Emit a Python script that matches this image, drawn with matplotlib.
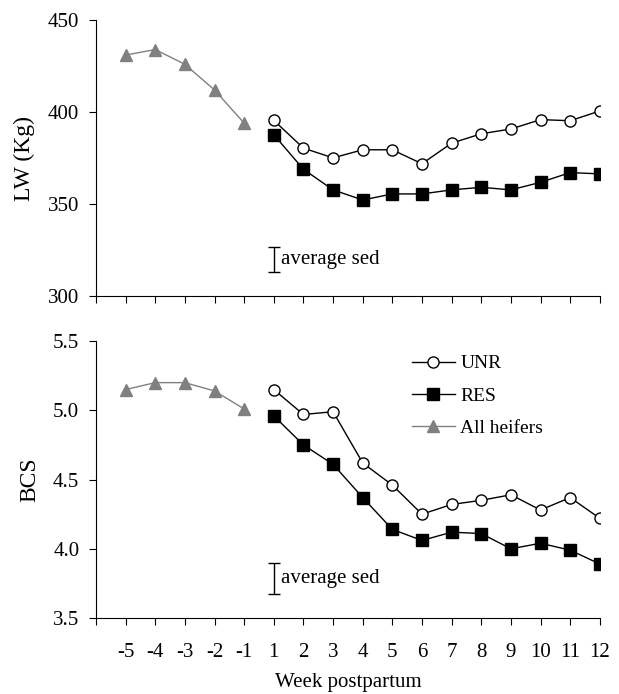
import matplotlib
matplotlib.use("Agg")
import matplotlib.pyplot as plt
import numpy as np

plt.rcParams['font.family'] = ['Liberation Serif', 'DejaVu Serif']

weeks = ['-5', '-4', '-3', '-2', '-1', '1', '2', '3', '4', '5', '6', '7', '8', '9', '10', '11', '12']
pre_idx = list(range(0, 5))
post_idx = list(range(5, 17))

lw_all = [431, 434, 426, 412, 394]
lw_unr = [395.5, 380.4, 375.1, 379.5, 379.5, 371.9, 383.1, 388.2, 390.8, 395.9, 395.3, 400.6]
lw_res = [387.7, 368.9, 357.7, 352.2, 355.5, 355.5, 357.7, 359.1, 357.7, 361.8, 367.1, 366.4]

bcs_all = [5.15, 5.20, 5.20, 5.14, 5.01]
bcs_unr = [5.15, 4.97, 4.99, 4.62, 4.46, 4.25, 4.32, 4.35, 4.39, 4.28, 4.37, 4.22]
bcs_res = [4.96, 4.75, 4.61, 4.37, 4.14, 4.06, 4.12, 4.11, 4.00, 4.04, 3.99, 3.89]

lw_sed = (320, 6.7)
bcs_sed = (3.785, 0.109)

fig = plt.figure(figsize=(6.19, 6.94), dpi=100)
ax1 = fig.add_axes([0.155, 0.5735, 0.814, 0.3975])
ax2 = fig.add_axes([0.155, 0.1095, 0.814, 0.399])

FS_X = 15
FS_Y = 15
FS_LAB = 17
FS_TXT = 15
FS_LEG = 14

def style(ax):
    for s in ['top', 'right']:
        ax.spines[s].set_visible(False)
    ax.spines['left'].set_linewidth(0.8)
    ax.spines['bottom'].set_linewidth(0.8)
    ax.set_xlim(-1, 16)
    ax.set_xticks(np.arange(-1, 17))
    ax.tick_params(direction='out', length=5, width=0.8)
    ax.tick_params(axis='y', pad=7, labelsize=FS_Y)
    ax.tick_params(axis='x', labelsize=FS_X)

def draw(ax, allv, unr, res, sed):
    ax.plot(pre_idx, allv, color='#808080', marker='^', markersize=9, lw=1.0,
            label='All heifers', markeredgecolor='#808080')
    ax.plot(post_idx, unr, color='black', marker='o', markersize=8, lw=1.0,
            markerfacecolor='white', markeredgecolor='black', markeredgewidth=1.0, label='UNR')
    ax.plot(post_idx, res, color='black', marker='s', markersize=8, lw=1.0,
            markerfacecolor='black', label='RES')
    ax.errorbar([5], [sed[0]], yerr=[sed[1]], fmt='none', ecolor='black',
                elinewidth=1.0, capsize=4, capthick=1.0)
    ax.text(5.25, sed[0], 'average sed', fontsize=FS_TXT, va='center', ha='left')

style(ax1)
draw(ax1, lw_all, lw_unr, lw_res, lw_sed)
ax1.set_ylim(300, 450)
ax1.set_yticks([300, 350, 400, 450])
ax1.set_xticklabels([])
ax1.set_ylabel('LW (Kg)', fontsize=FS_LAB, labelpad=9)

style(ax2)
draw(ax2, bcs_all, bcs_unr, bcs_res, bcs_sed)
ax2.set_ylim(3.5, 5.5)
ax2.set_yticks([3.5, 4.0, 4.5, 5.0, 5.5])
ax2.set_yticklabels(['3.5', '4.0', '4.5', '5.0', '5.5'])
ax2.set_xticklabels([''] + weeks)
ax2.tick_params(axis='x', pad=13)
ax2.set_ylabel('BCS', fontsize=FS_LAB, labelpad=9)
ax2.set_xlabel('Week postpartum', fontsize=FS_X, labelpad=8)

fig.align_ylabels([ax1, ax2])

h, l = ax2.get_legend_handles_labels()
order = [1, 2, 0]
ax2.legend([h[i] for i in order], [l[i] for i in order], frameon=False, fontsize=FS_LEG,
           loc='upper left', bbox_to_anchor=(0.6, 1.0), handlelength=2.2,
           handletextpad=0.3, labelspacing=0.75, borderpad=0.2)

fig.savefig('out.png', dpi=100)
